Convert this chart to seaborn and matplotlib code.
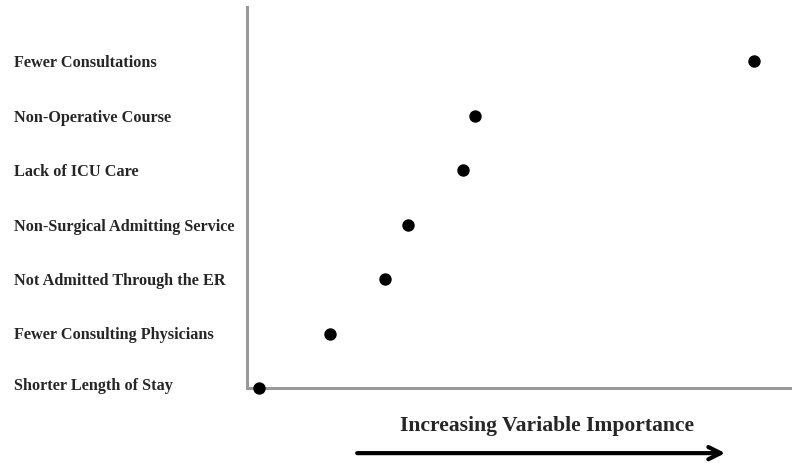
import seaborn as sns
import matplotlib.pyplot as plt
import pandas as pd

# categories from top to bottom, and the importance
categorias = ['Fewer Consultations', 'Non-Operative Course', 'Lack of ICU Care',
              'Non-Surgical Admitting Service', 'Not Admitted Through the ER',
              'Fewer Consulting Physicians', 'Shorter Length of Stay']
importancia = [8.41, 3.78, 3.58, 2.67, 2.29, 1.38, 0.2]
posicao = [6, 5, 4, 3, 2, 1, 0]

df = pd.DataFrame({'Categoria': categorias, 'Importancia': importancia, 'Pos': posicao})

sns.set_style('white')
plt.rcParams['font.family'] = ['Liberation Serif', 'DejaVu Serif']

fig = plt.figure(figsize=(8, 4.73), dpi=100)
ax = fig.add_axes([0.30875, 0.1797, 0.67875, 0.8055])

sns.scatterplot(data=df, x='Importancia', y='Pos', color='black', s=80,
                edgecolor='black', linewidth=0, ax=ax, clip_on=False, zorder=5)

ax.set_xlim(0, 9)
ax.set_ylim(0, 7)
ax.set_xticks(range(0, 10))
ax.set_yticks(posicao)
ax.set_xticklabels([])
ax.set_yticklabels([])
ax.set_xlabel('')
ax.set_ylabel('')

for lado in ['top', 'right']:
    ax.spines[lado].set_visible(False)
for lado in ['left', 'bottom']:
    ax.spines[lado].set_color('#999999')
    ax.spines[lado].set_linewidth(2.2)
ax.tick_params(axis='both', direction='in', length=3, width=0.8, color='#d0d0d0')

# category labels, left aligned at the figure edge
for nome, p in zip(categorias, posicao):
    y_fig = ax.transData.transform((0, p))[1]
    y_fig = fig.transFigure.inverted().transform((0, y_fig))[1]
    if p == 0:
        y_fig += 0.008
    fig.text(0.018, y_fig - 0.004, nome, ha='left', va='center', fontsize=11.7,
             fontweight='bold')

fig.text(0.684, 0.10, 'Increasing Variable Importance', ha='center', va='center',
         fontsize=15.6, fontweight='bold')
ax.annotate('', xy=(0.910, 0.042), xytext=(0.443, 0.042),
            xycoords='figure fraction', textcoords='figure fraction',
            arrowprops=dict(arrowstyle='->', lw=3, color='black',
                            mutation_scale=22))

fig.savefig('out.png', dpi=100)
